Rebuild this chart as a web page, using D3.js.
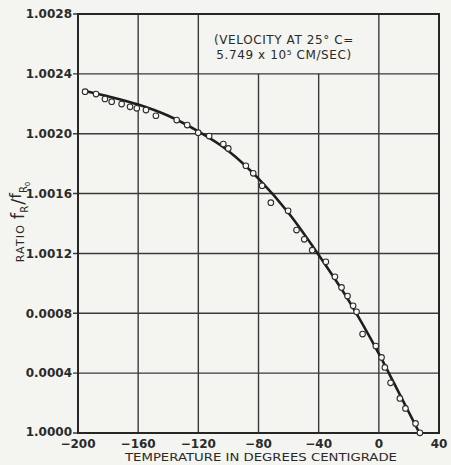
<!DOCTYPE html>
<html><head><meta charset="utf-8">
<script src="https://cdn.jsdelivr.net/npm/d3@7"></script>
<style>
html,body{margin:0;padding:0;background:#f4f4f1;}
svg{display:block;}
text{font-family:"DejaVu Sans",sans-serif;fill:#2a2a2a;}
</style></head>
<body>
<svg id="c" width="451" height="465"></svg>
<script>
// ---- data ----
const xTicks = [-200, -160, -120, -80, -40, 0, 40];
const xTickLabels = ["\u2212200", "\u2212160", "\u2212120", "\u221280", "\u221240", "0", "40"];
const yTicks = [1.0000, 1.0004, 1.0008, 1.0012, 1.0016, 1.0020, 1.0024, 1.0028];
const yTickLabels = ["1.0000", "0.0004", "0.0008", "1.0012", "1.0016", "1.0020", "1.0024", "1.0028"];

const pointTemp = [-195.3, -188, -182.1, -177.6, -171, -165.4, -160.9, -154.8, -148.2, -134.4,
  -127.4, -120.1, -112.8, -103.4, -100.1, -88.4, -83.5, -77.6, -71.8, -60.3, -54.7, -49.6,
  -44.3, -35.2, -29.2, -24.8, -20.8, -17.1, -14.8, -10.8, -2, 1.8, 4, 7.8, 14, 17.7, 24.4, 27.3];
const pointRatio = [1.002281, 1.002265, 1.002232, 1.002214, 1.002198, 1.002180, 1.002170, 1.002158,
  1.002120, 1.002091, 1.002058, 1.002007, 1.001984, 1.001931, 1.001902, 1.001786, 1.001735,
  1.001653, 1.001539, 1.001485, 1.001356, 1.001294, 1.001222, 1.001144, 1.001044, 1.000973,
  1.000915, 1.000850, 1.000810, 1.000661, 1.000581, 1.000505, 1.000438, 1.000335, 1.000231,
  1.000164, 1.000064, 1.000001];

const curveTemp = [-196, -180, -160, -140, -120, -100, -80, -60, -40, -20, 0, 10, 27];
const curveRatio = [1.002287, 1.002250, 1.002195, 1.002120, 1.002015, 1.001885, 1.001700,
  1.001470, 1.001190, 1.000885, 1.000530, 1.000335, 1.000000];

const noteLines = ["(VELOCITY AT 25\u00B0 C=", "5.749 x 10\u2075 CM/SEC)"];
const xTitle = "TEMPERATURE IN DEGREES CENTIGRADE";

// ---- layout ----
const svg = d3.select("#c");
const L = 78, R = 439, T = 14, B = 433;
const x = d3.scaleLinear().domain([-200, 40]).range([L, R]);
const y = d3.scaleLinear().domain([1.0000, 1.0028]).range([B, T]);
const ink = "#262626";

// grid
const g = svg.append("g");
g.selectAll("line.h").data(yTicks).join("line")
  .attr("x1", L - 5).attr("x2", R)
  .attr("y1", d => y(d)).attr("y2", d => y(d))
  .attr("stroke", "#3a3a3a").attr("stroke-width", 1.4);
g.selectAll("line.v").data(xTicks).join("line")
  .attr("x1", d => x(d)).attr("x2", d => x(d))
  .attr("y1", d => (d > -120 && d < 0) ? y(1.0024) : T).attr("y2", B)
  .attr("stroke", "#3a3a3a").attr("stroke-width", 1.4);

// frame
svg.append("rect").attr("x", L).attr("y", T).attr("width", R - L).attr("height", B - T)
  .attr("fill", "none").attr("stroke", ink).attr("stroke-width", 2);

// tick labels
svg.selectAll("text.yt").data(yTicks).join("text")
  .attr("x", L - 6).attr("y", (d, i) => y(d) + (i === 0 ? 3 : 4.3))
  .attr("text-anchor", "end").attr("font-size", 12).attr("font-weight", 600)
  .attr("font-family", "'Open Sans', sans-serif")
  .attr("fill", "#3a3a3a")
  .text((d, i) => yTickLabels[i]);
svg.selectAll("text.xt").data(xTicks).join("text")
  .attr("x", d => x(d)).attr("y", B + 15)
  .attr("text-anchor", "middle").attr("font-size", 12).attr("font-weight", 600)
  .attr("font-family", "'Open Sans', sans-serif")
  .attr("fill", "#3a3a3a")
  .text((d, i) => xTickLabels[i]);

// x title
svg.append("text").attr("x", 261).attr("y", 461).attr("text-anchor", "middle")
  .attr("font-size", 11).attr("fill", "#333")
  .attr("textLength", 272).attr("lengthAdjust", "spacingAndGlyphs")
  .text(xTitle);

// y title
const yt = svg.append("text").attr("transform", "translate(24,222) rotate(-90)")
  .attr("text-anchor", "middle").attr("font-size", 11).attr("fill", "#333");
yt.append("tspan").attr("letter-spacing", 1.2).text("RATIO ");
yt.append("tspan").attr("font-size", 18).text("f");
yt.append("tspan").attr("font-size", 10).attr("dy", 4).text("R");
yt.append("tspan").attr("font-size", 18).attr("dy", -4).attr("dx", 1).text("/");
yt.append("tspan").attr("font-size", 16).attr("dy", -3).text("f");
yt.append("tspan").attr("font-size", 10).attr("dy", 6).text("R");
yt.append("tspan").attr("font-size", 7).attr("dy", 2.5).text("0");

// note
svg.selectAll("text.note").data(noteLines).join("text")
  .attr("x", 284).attr("y", (d, i) => 44 + i * 15)
  .attr("text-anchor", "middle").attr("font-size", 12).attr("fill", "#333")
  .attr("letter-spacing", 0.6)
  .text(d => d);

// curve
const line = d3.line().x((d, i) => x(curveTemp[i])).y((d, i) => y(curveRatio[i]))
  .curve(d3.curveMonotoneX);
svg.append("path").datum(curveTemp).attr("d", line)
  .attr("fill", "none").attr("stroke", "#1e1e1e").attr("stroke-width", 2.6);

// points
svg.selectAll("circle.p").data(pointTemp).join("circle")
  .attr("cx", d => x(d)).attr("cy", (d, i) => y(pointRatio[i])).attr("r", 2.8)
  .attr("fill", "#fafafa").attr("stroke", "#2e2e2e").attr("stroke-width", 1.1);
</script>
</body></html>
